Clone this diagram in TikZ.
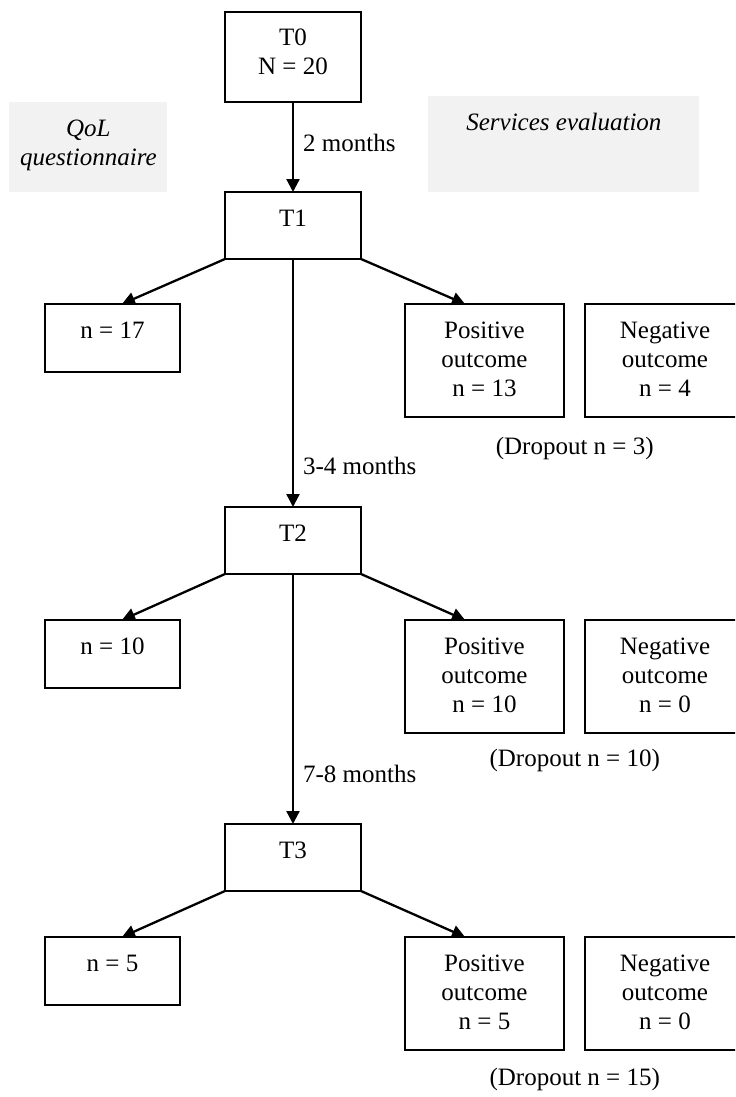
\documentclass[tikz,border=0pt]{standalone}
\usepackage{fontspec}
\setmainfont{Liberation Serif}
\usetikzlibrary{arrows.meta,calc}
\definecolor{notegray}{RGB}{242,242,242}
\newcommand{\stk}[1]{\begin{tabular}[t]{@{}c@{}}#1\end{tabular}}
\begin{document}
\begin{tikzpicture}[x=0.5pt,y=-0.5pt,
  every node/.style={font=\fontsize{12.5}{14.5}\selectfont},
  box/.style={draw, line width=1pt, rectangle, anchor=north west,
    inner sep=0pt, outer sep=0pt, text height=17pt},
  tbox/.style={box, minimum width=68pt, text depth=16.5pt},
  lbox/.style={box, minimum width=67.5pt, text depth=17pt},
  obox/.style={box, minimum width=79.5pt, text depth=39.5pt},
  note/.style={fill=notegray, anchor=north west, inner sep=0pt,
    text height=17pt, font=\fontsize{12.5}{14.5}\selectfont\itshape},
  arr/.style={-{Triangle[length=6.5pt,width=6.5pt]}, line width=1.15pt},
  lbl/.style={anchor=west, inner sep=0pt, xshift=4.5pt},
  drop/.style={anchor=base, inner sep=0pt}]
\useasboundingbox (0,0) rectangle (735,1097);
\clip (0,0) rectangle (735,1097);

% notes
\node[note, minimum width=79pt, text depth=28pt] (qol) at (9,102) {\stk{QoL\\questionnaire}};
\node[note, minimum width=135.5pt, text depth=31pt] (serv) at (428,96) {Services evaluation};

% time points
\node[tbox, text depth=28pt] (T0) at (225,12) {\stk{T0\\N = 20}};
\node[tbox] (T1) at (225,192) {T1};
\node[tbox] (T2) at (225,507) {T2};
\node[tbox] (T3) at (225,824) {T3};

% level 1
\node[lbox] (q1) at (45,304) {n = 17};
\node[obox] (p1) at (405,304) {\stk{Positive\\outcome\\n = 13}};
\node[obox, minimum width=80pt] (g1) at (585,304) {\stk{Negative\\outcome\\n = 4}};
\node[drop] (d1) at (574.75,454) {(Dropout n = 3)};

% level 2
\node[lbox] (q2) at (45,620) {n = 10};
\node[obox] (p2) at (405,620) {\stk{Positive\\outcome\\n = 10}};
\node[obox, minimum width=80pt] (g2) at (585,620) {\stk{Negative\\outcome\\n = 0}};
\node[drop] (d2) at (574.75,766) {(Dropout n = 10)};

% level 3
\node[lbox] (q3) at (45,937) {n = 5};
\node[obox] (p3) at (405,937) {\stk{Positive\\outcome\\n = 5}};
\node[obox, minimum width=80pt] (g3) at (585,937) {\stk{Negative\\outcome\\n = 0}};
\node[drop] (d3) at (574.75,1085) {(Dropout n = 15)};

% connectors
\draw[arr] (T0.south) -- node[lbl, pos=0.455] {2 months} (T1.north);
\draw[arr] (T1.south) -- node[lbl, pos=0.835] {3-4 months} (T2.north);
\draw[arr] (T2.south) -- node[lbl, pos=0.80] {7-8 months} (T3.north);

\draw[arr] (T1.south west) -- ($(q1.north)+(9.5,0)$);
\draw[arr] (T1.south east) -- ($(p1.north)+(-19.5,0)$);
\draw[arr] (T2.south west) -- ($(q2.north)+(9.5,0)$);
\draw[arr] (T2.south east) -- ($(p2.north)+(-19.5,0)$);
\draw[arr] (T3.south west) -- ($(q3.north)+(9.5,0)$);
\draw[arr] (T3.south east) -- ($(p3.north)+(-19.5,0)$);
\end{tikzpicture}
\end{document}
